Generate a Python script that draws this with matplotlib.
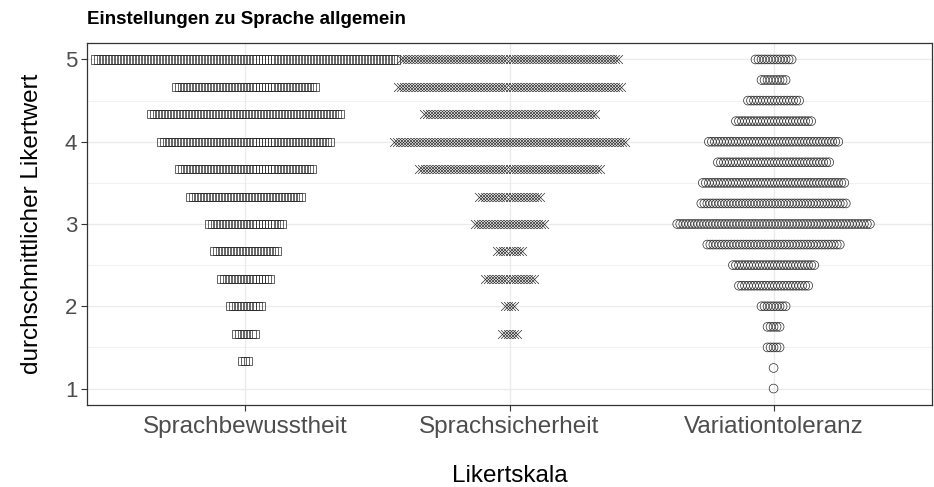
import matplotlib
matplotlib.use("Agg")
import matplotlib.pyplot as plt
import numpy as np

plt.rcParams['font.family'] = ['Liberation Sans', 'DejaVu Sans']

categories = ["Sprachbewusstheit", "Sprachsicherheit", "Variationtoleranz"]

sb_levels = [5.0, 4.667, 4.333, 4.0, 3.667, 3.333, 3.0, 2.667, 2.333, 2.0, 1.667, 1.333]
sb_counts = [101, 47, 64, 57, 45, 38, 25, 22, 17, 11, 7, 3]

ss_levels = [5.0, 4.667, 4.333, 4.0, 3.667, 3.333, 3.0, 2.667, 2.333, 2.0, 1.667]
ss_counts = [73, 75, 58, 78, 61, 21, 24, 9, 17, 4, 6]

vt_levels = [5.0, 4.75, 4.5, 4.25, 4.0, 3.75, 3.5, 3.25, 3.0, 2.75, 2.5, 2.25, 2.0, 1.75, 1.5, 1.25, 1.0]
vt_counts = [13, 9, 18, 26, 44, 38, 48, 49, 65, 45, 28, 24, 9, 5, 5, 1, 1]

title = "Einstellungen zu Sprache allgemein"
xlabel = "Likertskala"
ylabel = "durchschnittlicher Likertwert"
yticks = [1, 2, 3, 4, 5]

W, H = 934, 487
fig = plt.figure(figsize=(W / 100, H / 100), dpi=100)
L, R, T, B = 87, 932, 43, 405
ax = fig.add_axes([L / W, 1 - B / H, (R - L) / W, (B - T) / H])

ax.set_xlim(0.4, 3.6)
ax.set_ylim(0.8, 5.2)

spacing = 0.0114  # horizontal step between neighbouring points (data units)

def swarm(center, levels, counts):
    xs, ys = [], []
    for lv, n in zip(levels, counts):
        off = (np.arange(n) - (n - 1) / 2) * spacing
        xs.extend(center + off)
        ys.extend([lv] * n)
    return np.array(xs), np.array(ys)

# grid
for y in yticks:
    ax.axhline(y, color="#EBEBEB", lw=1.0, zorder=0)
for y in [1.5, 2.5, 3.5, 4.5]:
    ax.axhline(y, color="#EBEBEB", lw=0.5, zorder=0)
for x in [1, 2, 3]:
    ax.axvline(x, color="#EBEBEB", lw=1.0, zorder=0)

ec = "#2A2A2A"
x1, y1 = swarm(1, sb_levels, sb_counts)
ax.scatter(x1, y1, marker="s", s=34, facecolors="none", edgecolors=ec, linewidths=0.5, zorder=3)
x2, y2 = swarm(2, ss_levels, ss_counts)
ax.scatter(x2, y2, marker="x", s=40, c=ec, linewidths=0.5, zorder=3)
x3, y3 = swarm(3, vt_levels, vt_counts)
ax.scatter(x3, y3, marker="o", s=40, facecolors="none", edgecolors=ec, linewidths=0.5, zorder=3)

ax.set_xticks([1, 2, 3])
ax.set_xticklabels(categories)
ax.set_yticks(yticks)
ax.tick_params(axis="both", colors="#333333", length=4, width=0.8,
               labelcolor="#4D4D4D", labelsize=17.5)
ax.tick_params(axis="y", labelsize=16, pad=3)
ax.tick_params(axis="x", pad=4)

for s in ax.spines.values():
    s.set_color("#333333")
    s.set_linewidth(0.9)

ax.set_xlabel(xlabel, fontsize=17.5, labelpad=19, color="black")
ax.set_ylabel(ylabel, fontsize=17.5, labelpad=16, color="black")
fig.text(L / W, 1 - 20 / H, title, fontsize=13.5, fontweight="bold", va="center", ha="left")

fig.savefig("out.png", dpi=100)
